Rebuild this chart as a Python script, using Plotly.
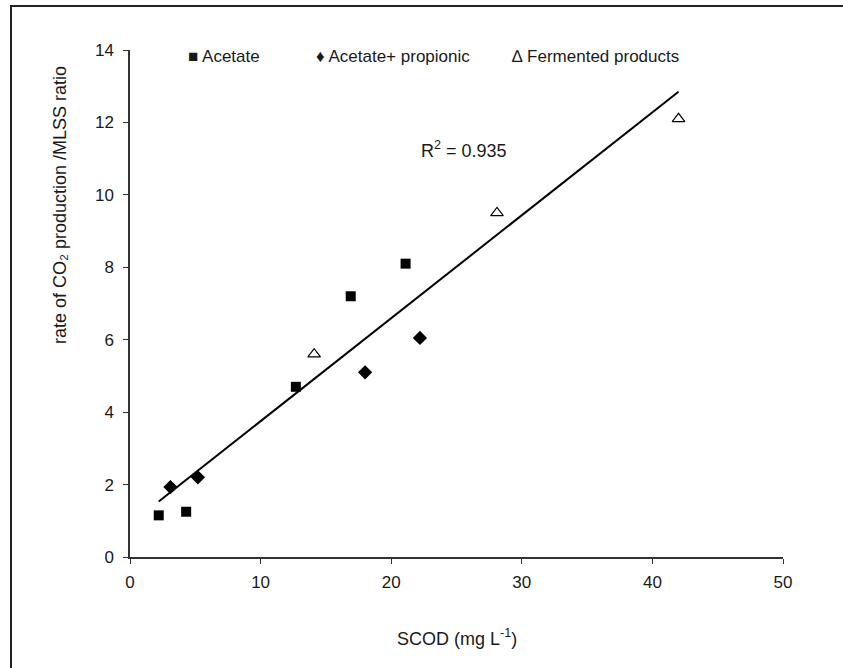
import numpy as np
import plotly.graph_objects as go

# Data
acetate_x = [2.2, 4.3, 12.7, 16.9, 21.1]
acetate_y = [1.15, 1.25, 4.7, 7.2, 8.1]
acprop_x = [3.1, 5.2, 18.0, 22.2]
acprop_y = [1.93, 2.2, 5.1, 6.05]
ferm_x = [14.1, 28.1, 42.0]
ferm_y = [5.6, 9.5, 12.1]
x_ticks = [0, 10, 20, 30, 40, 50]
y_ticks = [0, 2, 4, 6, 8, 10, 12, 14]
series_names = ["Acetate", "Acetate+ propionic", "Fermented products"]
legend_glyphs = ["\u25a0", "\u2666", "\u2206"]
r2_text = "R<sup>2</sup> = 0.935"

all_x = np.array(acetate_x + acprop_x + ferm_x)
all_y = np.array(acetate_y + acprop_y + ferm_y)
slope, intercept = np.polyfit(all_x, all_y, 1)
fit_x = [all_x.min(), all_x.max()]
fit_y = [slope * v + intercept for v in fit_x]

W, H = 843, 668
L, R, T, B = 130, 60, 50, 111
pw, ph = W - L - R, H - T - B

def px2paper_x(px):
    return (px - L) / pw

def px2paper_y(py):
    return (H - B - py) / ph

font = "Liberation Sans, Arial, sans-serif"
ink = "#1a1a1a"
fs = 17

fig = go.Figure()
fig.add_trace(go.Scatter(x=fit_x, y=fit_y, mode="lines",
                         line=dict(color="black", width=2), showlegend=False, hoverinfo="skip"))
fig.add_trace(go.Scatter(x=acetate_x, y=acetate_y, mode="markers", name=series_names[0],
                         marker=dict(symbol="square", size=10, color="black"), showlegend=False))
fig.add_trace(go.Scatter(x=acprop_x, y=acprop_y, mode="markers", name=series_names[1],
                         marker=dict(symbol="diamond", size=11, color="black"), showlegend=False))
fig.add_trace(go.Scatter(x=ferm_x, y=ferm_y, mode="markers", name=series_names[2],
                         marker=dict(symbol="triangle-up-open", size=11, color="black",
                                     line=dict(width=1.2, color="black")), showlegend=False))

axis_common = dict(ticks="outside", ticklen=5, tickwidth=1, tickcolor="#333",
                   showline=True, linecolor="#333", linewidth=1.5,
                   showgrid=False, zeroline=False,
                   tickfont=dict(size=fs, family=font, color=ink))

fig.update_layout(
    width=W, height=H,
    margin=dict(l=L, r=R, t=T, b=B),
    paper_bgcolor="white", plot_bgcolor="white",
    font=dict(family=font, size=fs, color=ink),
    xaxis=dict(range=[0, 50], tickvals=x_ticks, ticklabelstandoff=4, **axis_common),
    yaxis=dict(range=[0, 14], tickvals=y_ticks, ticklabelstandoff=6, **axis_common),
    showlegend=False,
)

# legend entries (glyph + series name) placed like the reference's inline legend
legend_px = [186, 314, 510]
for gx, glyph, name in zip(legend_px, legend_glyphs, series_names):
    fig.add_annotation(x=px2paper_x(gx), y=px2paper_y(57), xref="paper", yref="paper",
                       text=f"{glyph} {name}", showarrow=False, xanchor="left", yanchor="middle",
                       font=dict(family=font, size=fs, color=ink))

fig.add_annotation(x=25.6, y=11.25, xref="x", yref="y", text=r2_text, showarrow=False,
                   font=dict(family=font, size=18, color=ink))
fig.add_annotation(x=0.5, y=px2paper_y(637), xref="paper", yref="paper",
                   text="SCOD (mg L<sup>-1</sup>)", showarrow=False,
                   font=dict(family=font, size=18, color=ink), yanchor="middle")
fig.add_annotation(x=px2paper_x(60), y=px2paper_y(205), xref="paper", yref="paper",
                   text="rate of CO\u2082 production /MLSS ratio", showarrow=False, textangle=-90,
                   font=dict(family=font, size=18, color=ink), xanchor="center", yanchor="middle")

# outer frame (only top and left edges visible in the reference)
fig.add_shape(type="rect", xref="paper", yref="paper",
              x0=px2paper_x(11), x1=px2paper_x(W + 20), y0=px2paper_y(H + 20), y1=px2paper_y(6),
              line=dict(color="#222", width=2))

fig.write_html("out.html")
